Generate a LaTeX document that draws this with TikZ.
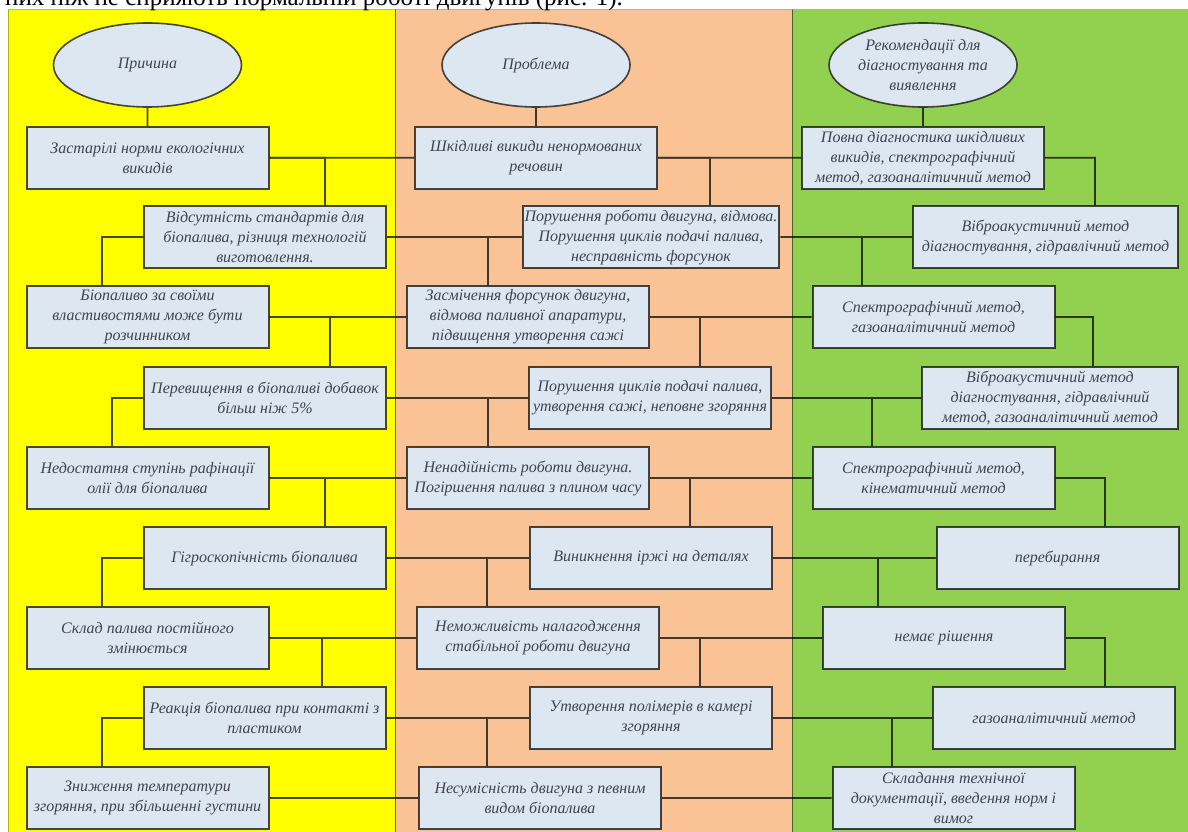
\documentclass[tikz,border=0pt]{standalone}
\usepackage{fontspec}
\setmainfont{Liberation Serif}
\usetikzlibrary{shapes.geometric, positioning}
\definecolor{causeyellow}{RGB}{255,255,0}
\definecolor{problempeach}{RGB}{249,195,150}
\definecolor{advicegreen}{RGB}{146,208,80}
\definecolor{paleblue}{RGB}{221,231,241}
\definecolor{slatetext}{RGB}{62,68,80}

\begin{document}
\begin{tikzpicture}[
        x=1pt, y=-1pt,
        box/.style={rectangle, draw=black, draw opacity=0.7, line width=2pt, fill=paleblue, minimum width=242pt, minimum height=62pt, inner sep=2pt, align=center, text=slatetext, font=\itshape\fontsize{16}{20}\selectfont},
        head/.style={ellipse, draw=black, draw opacity=0.7, line width=1.6pt, fill=paleblue, minimum width=188pt, minimum height=84pt, inner sep=0pt, align=center, text=slatetext, font=\itshape\fontsize{16}{20}\selectfont},
        panel/.style={draw=black, draw opacity=0.3, line width=1pt},
        link/.style={draw=black, line width=1.7pt}
    ]
        \useasboundingbox (0,0) rectangle (1188,832);
        \fill[causeyellow] (8,10) rectangle (395,840);
        \fill[problempeach] (395,10) rectangle (792,840);
        \fill[advicegreen] (792,10) rectangle (1196,840);
        \draw[panel] (8,10) rectangle (395,840);
        \draw[panel] (395,10) rectangle (792,840);
        \draw[panel] (792,10) rectangle (1196,840);
        \node[anchor=base west, inner sep=0pt, font=\fontsize{25}{29}\selectfont] (intro) at (5,6) {них ніж не сприяють нормальній роботі двигунів (рис. 1).};

        \node[head] (cause) at (147.5,65) {Причина};
        \node[head] (problem) at (536,65) {Проблема};
        \node[head] (advice) at (923,65) {Рекомендації для\\діагностування та\\виявлення};

        \node[box, below=18pt of cause] (c1) {Застарілі норми екологічних\\викидів};
        \node[box] (c2) at (265,237) {Відсутність стандартів для\\біопалива, різниця технологій\\виготовлення.};
        \node[box] (c3) at (147.5,317) {Біопаливо за своїми\\властивостями може бути\\розчинником};
        \node[box] (c4) at (265,398) {Перевищення в біопаливі добавок\\більш ніж 5\%};
        \node[box] (c5) at (147.5,478) {Недостатня ступінь рафінації\\олії для біопалива};
        \node[box] (c6) at (264.5,558) {Гігроскопічність біопалива};
        \node[box] (c7) at (147.5,638) {Склад палива постійного\\змінюється};
        \node[box] (c8) at (264.5,718) {Реакція біопалива при контакті з\\пластиком};
        \node[box] (c9) at (147.5,798) {Зниження температури\\згоряння, при збільшенні густини};

        \node[box, below=18pt of problem] (p1) {Шкідливі викиди ненормованих\\речовин};
        \node[box] (p2) at (651,237) {Порушення роботи двигуна, відмова.\\Порушення циклів подачі палива,\\несправність форсунок};
        \node[box] (p3) at (528,317) {Засмічення форсунок двигуна,\\відмова паливної апаратури,\\підвищення утворення сажі};
        \node[box] (p4) at (650,398) {Порушення циклів подачі палива,\\утворення сажі, неповне згоряння};
        \node[box] (p5) at (528,478) {Ненадійність роботи двигуна.\\Погіршення палива з плином часу};
        \node[box] (p6) at (651,558) {Виникнення іржі на деталях};
        \node[box] (p7) at (538,638) {Неможливість налагодження\\стабільної роботи двигуна};
        \node[box] (p8) at (651,718) {Утворення полімерів в камері\\згоряння};
        \node[box] (p9) at (540,798) {Несумісність двигуна з певним\\видом біопалива};

        \node[box, below=18pt of advice] (r1) {Повна діагностика шкідливих\\викидів, спектрографічний\\метод, газоаналітичний метод};
        \node[box, minimum width=265pt] (r2) at (1045.5,237) {Віброакустичний метод\\діагностування, гідравлічний метод};
        \node[box] (r3) at (933.5,317) {Спектрографічний метод,\\газоаналітичний метод};
        \node[box, minimum width=256pt] (r4) at (1050,398) {Віброакустичний метод\\діагностування, гідравлічний\\метод, газоаналітичний метод};
        \node[box] (r5) at (933.5,478) {Спектрографічний метод,\\кінематичний метод};
        \node[box] (r6) at (1057.5,558) {перебирання};
        \node[box] (r7) at (944,638) {немає рішення};
        \node[box] (r8) at (1054,718) {газоаналітичний метод};
        \node[box] (r9) at (953.5,798) {Складання технічної\\документації, введення норм і\\вимог};

        \begin{scope}[transparency group, opacity=0.72]
        \draw[link] (cause) -- (c1);
        \draw[link] (problem) -- (p1);
        \draw[link] (advice) -- (r1);
        \draw[link] (c1) -- (p1) -- (r1);
        \draw[link] (c2) -- (p2) -- (r2);
        \draw[link] (c3) -- (p3) -- (r3);
        \draw[link] (c4) -- (p4) -- (r4);
        \draw[link] (c5) -- (p5) -- (r5);
        \draw[link] (c6) -- (p6) -- (r6);
        \draw[link] (c7) -- (p7) -- (r7);
        \draw[link] (c8) -- (p8) -- (r8);
        \draw[link] (c9) -- (p9) -- (r9);

        \draw[link] (c1.east) -| ([xshift=60pt]c2.north);
        \draw[link] (c2.west) -| ([xshift=-45.5pt]c3.north);
        \draw[link] (c3.east) -| ([xshift=65pt]c4.north);
        \draw[link] (c4.west) -| ([xshift=-35.5pt]c5.north);
        \draw[link] (c5.east) -| ([xshift=60.5pt]c6.north);
        \draw[link] (c6.west) -| ([xshift=-45.5pt]c7.north);
        \draw[link] (c7.east) -| ([xshift=57.5pt]c8.north);
        \draw[link] (c8.west) -| ([xshift=-45.5pt]c9.north);

        \draw[link] (p1.east) -| ([xshift=59pt]p2.north);
        \draw[link] (p2.west) -| ([xshift=-40pt]p3.north);
        \draw[link] (p3.east) -| ([xshift=50pt]p4.north);
        \draw[link] (p4.west) -| ([xshift=-40pt]p5.north);
        \draw[link] (p5.east) -| ([xshift=39pt]p6.north);
        \draw[link] (p6.west) -| ([xshift=-51pt]p7.north);
        \draw[link] (p7.east) -| ([xshift=49pt]p8.north);
        \draw[link] (p8.west) -| ([xshift=-53pt]p9.north);

        \draw[link] (r1.east) -| ([xshift=49.5pt]r2.north);
        \draw[link] (r2.west) -| ([xshift=-71.5pt]r3.north);
        \draw[link] (r3.east) -| ([xshift=43pt]r4.north);
        \draw[link] (r4.west) -| ([xshift=-61.5pt]r5.north);
        \draw[link] (r5.east) -| ([xshift=47.5pt]r6.north);
        \draw[link] (r6.west) -| ([xshift=-66pt]r7.north);
        \draw[link] (r7.east) -| ([xshift=51pt]r8.north);
        \draw[link] (r8.west) -| ([xshift=-61.5pt]r9.north);
        \end{scope}
    \end{tikzpicture}
\end{document}
